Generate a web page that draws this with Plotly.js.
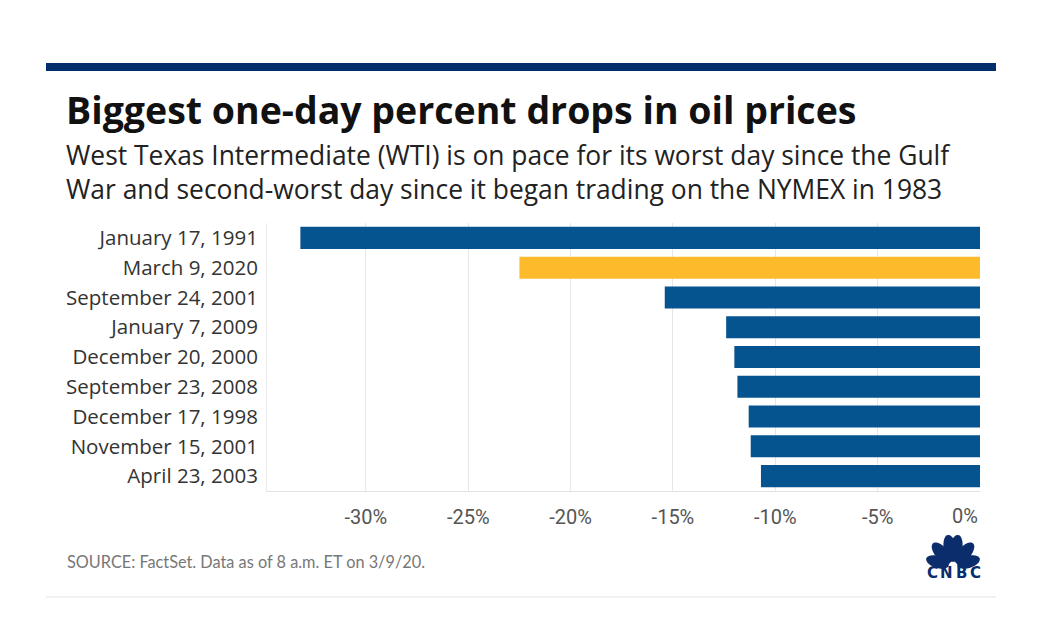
<!DOCTYPE html>
<html>
<head>
<meta charset="utf-8">
<script src="https://cdn.plot.ly/plotly-3.0.1.min.js"></script>
<style>
  html, body { margin: 0; padding: 0; background: #ffffff; }
  #chart { width: 1044px; height: 630px; }
</style>
</head>
<body>
<div id="chart"></div>
<script>
// ---- Data ----
const dates = [
  "January 17, 1991",
  "March 9, 2020",
  "September 24, 2001",
  "January 7, 2009",
  "December 20, 2000",
  "September 23, 2008",
  "December 17, 1998",
  "November 15, 2001",
  "April 23, 2003"
];
const pctDrop = [-33.2, -22.5, -15.4, -12.4, -12.0, -11.85, -11.3, -11.2, -10.7];
const highlight = [false, true, false, false, false, false, false, false, false];
const tickValues = [-30, -25, -20, -15, -10, -5];
const tickLabels = ["-30%", "-25%", "-20%", "-15%", "-10%", "-5%"];

const titleText = "Biggest one-day percent drops in oil prices";
const subtitleText = "West Texas Intermediate (WTI) is on pace for its worst day since the Gulf<br>War and second-worst day since it began trading on the NYMEX in 1983";
const sourceText = "SOURCE: FactSet. Data as of 8 a.m. ET on 3/9/20.";
const logoLetters = ["C", "N", "B", "C"];

// ---- Layout geometry (pixels) ----
const W = 1044, H = 630;
const L = 267, R = 980, T = 223, B = 491;
const px = v => (v - L) / (R - L);
const py = v => (B - v) / (B - T);

const BLUE = "#06548f", GOLD = "#fdbb2c", NAVY = "#0b2d6b";

// CNBC peacock feathers (logo decoration)
function feather(bx, by, angDeg, r, w) {
  const a = angDeg * Math.PI / 180;
  const dx = Math.cos(a), dy = -Math.sin(a);
  const nx = -dy, ny = dx;
  const cx = bx + dx * r * 0.58, cy = by + dy * r * 0.58;
  const ra = r * 0.42;
  let p = "";
  for (let i = 0; i <= 40; i++) {
    const t = i / 40 * 2 * Math.PI;
    const u = Math.cos(t) * ra, v = Math.sin(t) * w;
    const X = cx + dx * u + nx * v, Y = cy + dy * u + ny * v;
    p += (i === 0 ? "M" : "L") + px(X).toFixed(5) + "," + py(Y).toFixed(5);
  }
  return p + "Z";
}
const logoShapes = [
  [162, 28, 6.0], [130, 31, 6.4], [99, 32.5, 6.4], [81, 32.5, 6.4], [50, 31, 6.4], [18, 28, 6.0]
].map(f => ({
  type: "path", xref: "paper", yref: "paper",
  path: feather(953, 567, f[0], f[1], f[2]),
  fillcolor: NAVY, line: { width: 0 }
}));
const logoLetterX = [932, 946.5, 961, 975];

const trace = {
  type: "bar",
  orientation: "h",
  x: pctDrop,
  y: dates,
  marker: { color: highlight.map(h => h ? GOLD : BLUE), line: { width: 0 } },
  width: 0.74,
  hoverinfo: "skip"
};

const annotations = [
  { xref: "paper", yref: "paper", x: px(64), y: py(109),
    xanchor: "left", yanchor: "middle", showarrow: false,
    text: "<b>" + titleText + "</b>",
    font: { family: "Open Sans, sans-serif", size: 37.5, color: "#111111" } },
  { xref: "paper", yref: "paper", x: px(64), y: py(172),
    xanchor: "left", yanchor: "middle", showarrow: false, align: "left",
    text: subtitleText,
    font: { family: "Open Sans, sans-serif", size: 26.4, color: "#222222" } },
  { xref: "x", yref: "paper", x: 0, y: py(516),
    xanchor: "right", yanchor: "middle", showarrow: false,
    text: "0%",
    font: { family: "Roboto, sans-serif", size: 20, color: "#555555" } },
  { xref: "paper", yref: "paper", x: px(65), y: py(561),
    xanchor: "left", yanchor: "middle", showarrow: false,
    text: sourceText,
    font: { family: "Lato, sans-serif", size: 16.3, color: "#777777" } }
].concat(logoLetters.map((ch, i) => ({
  xref: "paper", yref: "paper", x: px(logoLetterX[i]), y: py(572.5),
  xanchor: "center", yanchor: "middle", showarrow: false,
  text: "<b>" + ch + "</b>",
  font: { family: "DejaVu Sans, sans-serif", size: 15, color: NAVY }
})));

const layout = {
  width: W, height: H,
  margin: { l: L, r: W - R, t: T, b: H - B, pad: 0 },
  paper_bgcolor: "#ffffff",
  plot_bgcolor: "#ffffff",
  showlegend: false,
  font: { family: "Open Sans, sans-serif", color: "#333333" },
  xaxis: {
    range: [-34.83, 0],
    tickvals: tickValues,
    ticktext: tickLabels,
    showgrid: true, gridcolor: "#e6e6e6", gridwidth: 1,
    zeroline: false,
    showline: true, linecolor: "#e3e3e3", linewidth: 1,
    ticks: "outside", ticklen: 8, tickcolor: "rgba(0,0,0,0)",
    tickfont: { family: "Roboto, sans-serif", size: 20, color: "#555555" },
    fixedrange: true
  },
  yaxis: {
    type: "category",
    categoryarray: dates,
    autorange: "reversed",
    showgrid: false, zeroline: false,
    showline: true, linecolor: "#ececec", linewidth: 1,
    ticks: "outside", ticklen: 4, tickcolor: "rgba(0,0,0,0)",
    tickfont: { family: "Open Sans, sans-serif", size: 20.5, color: "#333333" },
    fixedrange: true
  },
  bargap: 0.26,
  shapes: [
    { type: "rect", xref: "paper", yref: "paper",
      x0: px(46), x1: px(996), y0: py(71), y1: py(63),
      fillcolor: "#002d6c", line: { width: 0 } },
    { type: "line", xref: "paper", yref: "paper",
      x0: px(46), x1: px(996), y0: py(597), y1: py(597),
      line: { color: "#dfe4ea", width: 1 } }
  ].concat(logoShapes),
  annotations: annotations
};

Plotly.newPlot("chart", [trace], layout, { staticPlot: true, displayModeBar: false });
</script>
</body>
</html>
